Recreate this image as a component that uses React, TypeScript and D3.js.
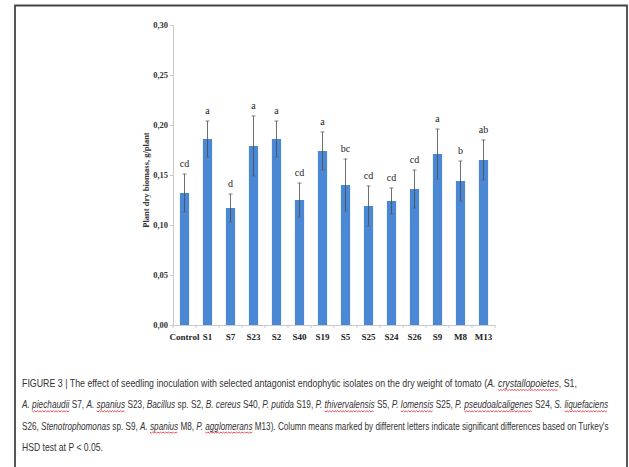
import { useEffect, useRef } from 'react';
import * as d3 from 'd3';

const categories = ['Control', 'S1', 'S7', 'S23', 'S2', 'S40', 'S19', 'S5', 'S25', 'S24', 'S26', 'S9', 'M8', 'M13'];
const means = [0.132, 0.186, 0.117, 0.179, 0.186, 0.125, 0.174, 0.140, 0.119, 0.124, 0.136, 0.171, 0.144, 0.165];
const errors = [0.019, 0.018, 0.014, 0.030, 0.018, 0.017, 0.019, 0.026, 0.020, 0.013, 0.019, 0.025, 0.020, 0.020];
const letters = ['cd', 'a', 'd', 'a', 'a', 'cd', 'a', 'bc', 'cd', 'cd', 'cd', 'a', 'b', 'ab'];
const yTicks = [0, 0.05, 0.1, 0.15, 0.2, 0.25, 0.3];
// *...* = italic, ~...~ = italic with spell-check underline
const captionLines = [
  'FIGURE 3 | The effect of seedling inoculation with selected antagonist endophytic isolates on the dry weight of tomato (*A. *~crystallopoietes~, S1,',
  '*A. *~piechaudii~ S7, *A. *~spanius~ S23, *Bacillus* sp. S2, *B. cereus* S40, *P. putida* S19, *P. *~thivervalensis~ S5, *P. *~lomensis~ S25, *P. *~pseudoalcaligenes~ S24, *S. *~liquefaciens~',
  'S26, *Stenotrophomonas* sp. S9, *A. *~spanius~ M8, *P. *~agglomerans~ M13). Column means marked by different letters indicate significant differences based on Turkey\'s',
  'HSD test at P < 0.05.',
];
const captionWidths = [556, 587, 587, 81];

const parseLine = (s: string) => {
  const out: { t: string; it: boolean; ul: boolean }[] = [];
  const re = /\*([^*]*)\*|~([^~]*)~|([^*~]+)/g;
  let m;
  while ((m = re.exec(s)) !== null) {
    if (m[1] !== undefined) out.push({ t: m[1], it: true, ul: false });
    else if (m[2] !== undefined) out.push({ t: m[2], it: true, ul: true });
    else out.push({ t: m[3], it: false, ul: false });
  }
  return out;
};

const App = () => {
  const svgRef = useRef<SVGSVGElement>(null);

  useEffect(() => {
    if (!svgRef.current) return;
    const svg = d3.select(svgRef.current);
    svg.selectAll('*').remove();

    // frame
    svg.append('path')
      .attr('d', 'M15,467 L15,5.5 L627,5.5 L627,467')
      .attr('fill', 'none')
      .attr('stroke', '#444')
      .attr('stroke-width', 1.8);

    const left = 173, right = 495, top = 25, bottom = 325;

    const x = d3.scaleBand().domain(categories).range([left, right]).paddingInner(0.6).paddingOuter(0.3);
    const y = d3.scaleLinear().domain([0, 0.3]).range([bottom, top]);

    const g = svg.append('g');

    // bars
    g.selectAll('rect.bar')
      .data(categories)
      .enter()
      .append('rect')
      .attr('class', 'bar')
      .attr('x', d => x(d) ?? 0)
      .attr('y', (_, i) => y(means[i]))
      .attr('width', x.bandwidth())
      .attr('height', (_, i) => bottom - y(means[i]))
      .attr('fill', '#4a88d6');

    // error bars
    const cx = (d: string) => (x(d) ?? 0) + x.bandwidth() / 2;
    const eb = g.selectAll('g.err').data(categories).enter().append('g').attr('class', 'err');
    eb.append('line')
      .attr('x1', cx)
      .attr('x2', cx)
      .attr('y1', (_, i) => y(means[i] - errors[i]))
      .attr('y2', (_, i) => y(means[i] + errors[i]))
      .attr('stroke', '#4a4a4a')
      .attr('stroke-width', 0.8);
    [-1, 1].forEach(s => {
      eb.append('line')
        .attr('x1', d => cx(d) - 2)
        .attr('x2', d => cx(d) + 2)
        .attr('y1', (_, i) => y(means[i] + s * errors[i]))
        .attr('y2', (_, i) => y(means[i] + s * errors[i]))
        .attr('stroke', '#666')
        .attr('stroke-width', 0.8);
    });

    // significance letters
    g.selectAll('text.letter')
      .data(categories)
      .enter()
      .append('text')
      .attr('x', cx)
      .attr('y', (_, i) => y(means[i] + errors[i]) - 7)
      .attr('text-anchor', 'middle')
      .style('font-family', 'Liberation Serif')
      .style('font-size', '10px')
      .attr('fill', '#222')
      .text((_, i) => letters[i]);

    // y axis
    const yAxis = svg.append('g')
      .attr('transform', `translate(${left},0)`)
      .call(d3.axisLeft(y).tickValues(yTicks).tickSize(3).tickFormat(d => d3.format('.2f')(d as number).replace('.', ',')));
    yAxis.select('.domain').attr('stroke', '#c8c8c8');
    yAxis.selectAll('.tick line').attr('stroke', '#c8c8c8');
    yAxis.selectAll('.tick text')
      .attr('fill', '#333')
      .attr('x', -5)
      .style('font-family', 'Liberation Serif')
      .style('font-weight', 'bold')
      .style('font-size', '8.5px');

    // x axis
    const xAxis = svg.append('g')
      .attr('transform', `translate(0,${bottom})`)
      .call(d3.axisBottom(x).tickSize(0).tickSizeOuter(0));
    xAxis.select('.domain').attr('stroke', '#c8c8c8');
    xAxis.selectAll('.tick text')
      .attr('fill', '#222')
      .attr('y', 9)
      .style('font-family', 'Liberation Serif')
      .style('font-weight', 'bold')
      .style('font-size', '9px');
    const step = x.step();
    const bounds = d3.range(categories.length + 1).map(i => left + i * step);
    xAxis.selectAll('line.minor')
      .data(bounds)
      .enter()
      .append('line')
      .attr('x1', d => d)
      .attr('x2', d => d)
      .attr('y1', 0)
      .attr('y2', 3)
      .attr('stroke', '#c8c8c8');

    // y title
    svg.append('text')
      .attr('transform', `translate(149,${(top + bottom) / 2 + 5}) rotate(-90)`)
      .attr('text-anchor', 'middle')
      .style('font-family', 'Liberation Serif')
      .style('font-weight', 'bold')
      .style('font-size', '8.5px')
      .attr('fill', '#333')
      .text('Plant dry biomass, g/plant');

    // caption: each line squeezed horizontally to its width in the figure
    captionLines.forEach((line, li) => {
      const segs = parseLine(line);
      const ty = 387 + li * 21.3;
      const lg = svg.append('g');
      const t = lg.append('text')
        .attr('x', 0)
        .attr('y', 0)
        .style('font-family', 'Liberation Sans Narrow, Liberation Sans')
        .style('font-size', '10px')
        .attr('fill', '#333');
      const ranges: [number, number][] = [];
      let idx = 0;
      segs.forEach(s => {
        t.append('tspan').style('font-style', s.it ? 'italic' : 'normal').text(s.t);
        if (s.ul) ranges.push([idx, idx + s.t.length - 1]);
        idx += s.t.length;
      });
      const node = t.node() as SVGTextElement;
      const natural = node.getComputedTextLength() || captionWidths[li];
      lg.attr('transform', `translate(22,${ty}) scale(${captionWidths[li] / natural},1)`);
      ranges.forEach(([a, b]) => {
        try {
          const e1 = node.getExtentOfChar(a);
          const e2 = node.getExtentOfChar(b);
          const x0 = e1.x, x1 = e2.x + e2.width;
          const pts: [number, number][] = [];
          for (let px = x0, k = 0; px <= x1; px += 1.6, k++) pts.push([px, 2.5 + (k % 2 ? 1 : 0)]);
          lg.append('path')
            .attr('d', d3.line()(pts) ?? '')
            .attr('fill', 'none')
            .attr('stroke', '#d23')
            .attr('stroke-width', 0.8)
            .attr('vector-effect', 'non-scaling-stroke');
        } catch (err) {
          // ignore
        }
      });
    });
  }, []);

  return (
    <svg ref={svgRef} width={629} height={467}
      style={{ position: 'absolute', left: 0, top: 0, background: '#fff' }} />
  );
};

export default App;
